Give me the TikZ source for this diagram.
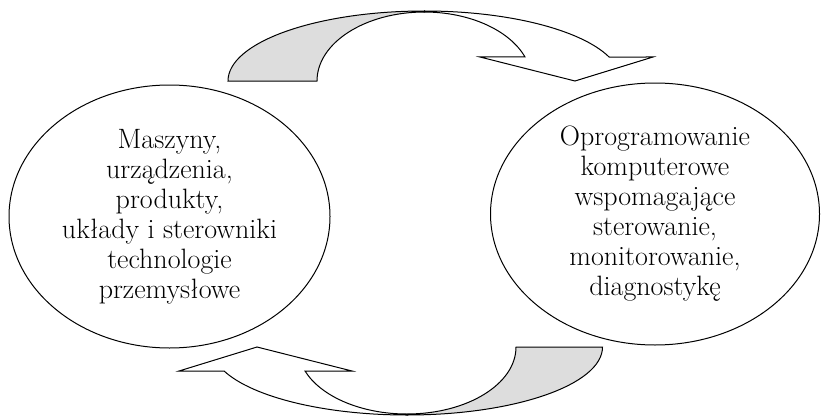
\documentclass[tikz,border=0pt]{standalone}
\usepackage{xcolor}
\usepackage{tikz}
\usetikzlibrary{shapes,arrows,positioning}

\definecolor{backgray}{HTML}{DDDDDD}

\begin{document}
\begin{tikzpicture}[
        x=1pt, y=1pt,
        line width=1pt,
        field/.style={ellipse, draw, align=center, inner sep=0pt, font=\fontsize{28}{30}\selectfont},
        backpart/.style={draw, fill=backgray, line join=miter},
        frontpart/.style={draw, fill=white, line join=miter}
    ]
        \useasboundingbox (0,0) rectangle (821,416);

        % Machines and devices
        \node [field, minimum width=321pt, minimum height=263pt] (machines) at (169.5,199.5)
            {Maszyny,\\urządzenia,\\produkty,\\układy i sterowniki\\technologie\\przemysłowe};

        % Software
        \node [field, minimum width=329pt, minimum height=262pt] (software) at (655,202)
            {Oprogramowanie\\komputerowe\\wspomagające\\sterowanie,\\monitorowanie,\\diagnostykę};

        % Upper curved arrow (to the right)
        \draw [backpart] (228,335) arc[start angle=180, end angle=90, x radius=196.5pt, y radius=70pt]
            -- (424.5,404) arc[start angle=90, end angle=180, x radius=107.5pt, y radius=69pt] -- cycle;
        \draw [frontpart] (424.5,405) arc[start angle=90, end angle=20.05, x radius=196.5pt, y radius=70pt]
            -- (653,359) -- (575,335) -- (480,359) -- (525,359)
            arc[start angle=20.36, end angle=90, x radius=107.5pt, y radius=69pt] -- cycle;

        % Lower curved arrow (to the left)
        \draw [backpart] (602.5,69) arc[start angle=360, end angle=270, x radius=195.5pt, y radius=68pt]
            -- (407,2) arc[start angle=270, end angle=360, x radius=109pt, y radius=67pt] -- cycle;
        \draw [frontpart] (407,1) arc[start angle=270, end angle=200.67, x radius=195.5pt, y radius=68pt]
            -- (179,45) -- (257,69) -- (352,45) -- (305,45)
            arc[start angle=200.99, end angle=270, x radius=109pt, y radius=67pt] -- cycle;

    \end{tikzpicture}
\end{document}
